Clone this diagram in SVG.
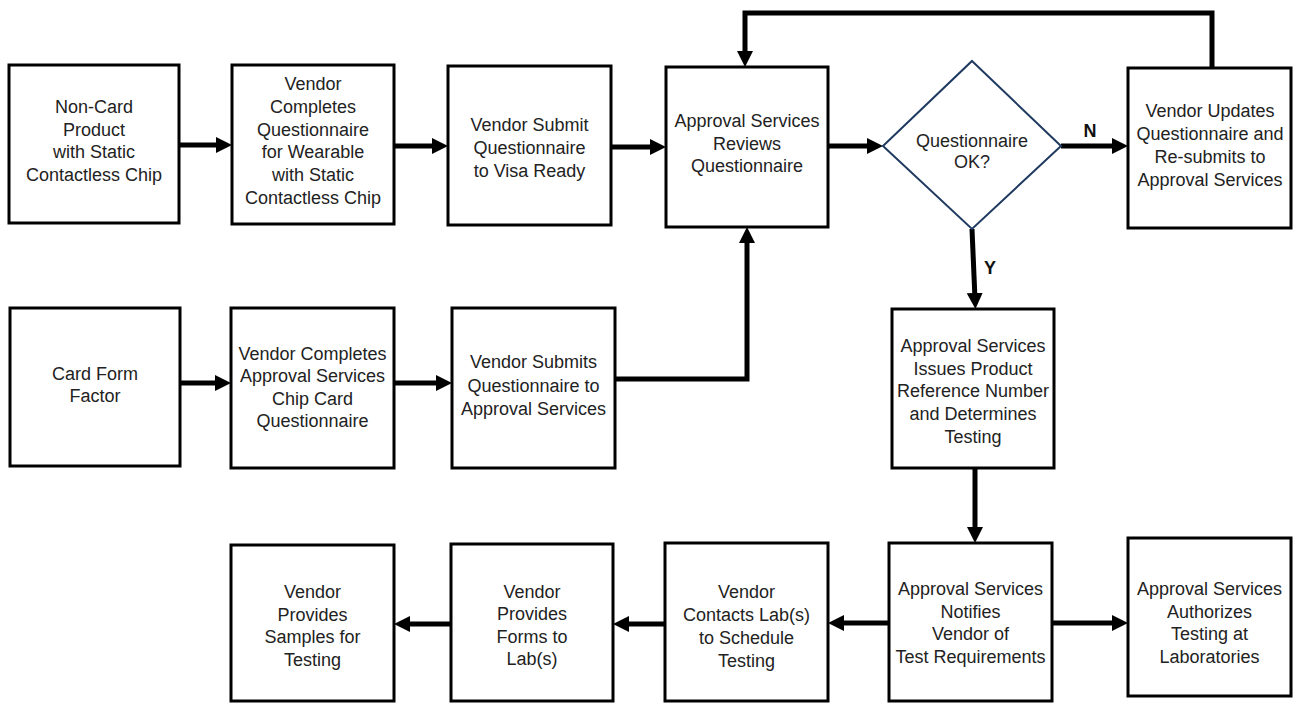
<svg xmlns="http://www.w3.org/2000/svg" width="1296" height="703" viewBox="0 0 1296 703">
<style>
.box{fill:#fff;stroke:#000;stroke-width:3}
.dia{fill:#fff;stroke:#1f3a60;stroke-width:2}
.t{font-family:"Liberation Sans",Arial,sans-serif;font-size:18px;fill:#222;text-anchor:middle}
.lbl{font-family:"Liberation Sans",Arial,sans-serif;font-size:18px;font-weight:bold;fill:#111;text-anchor:middle}
.c{fill:none;stroke:#000;stroke-width:5;marker-end:url(#ah)}
</style>
<defs>
<marker id="ah" markerUnits="userSpaceOnUse" markerWidth="18" markerHeight="18" refX="6" refY="8" orient="auto">
<path d="M0,0 L16,8 L0,16 z" fill="#000"/>
</marker>
</defs>
<rect width="1296" height="703" fill="#fff"/>
<g id="connectors">
<path class="c" d="M179,145 H222"/>
<path class="c" d="M394,146 H438"/>
<path class="c" d="M611,147 H656"/>
<path class="c" d="M828,146 H873"/>
<path class="c" d="M1061,146 H1118"/>
<path class="c" d="M1212,68 V13 H745 V57"/>
<path class="c" d="M972,229 L975,299"/>
<path class="c" d="M975,468 V533"/>
<path class="c" d="M889,623 H838"/>
<path class="c" d="M665,624 H623"/>
<path class="c" d="M451,624 H404"/>
<path class="c" d="M1052,623 H1118"/>
<path class="c" d="M180,383 H221"/>
<path class="c" d="M394,383 H442"/>
<path class="c" d="M615,379 H747 V237"/>
<text class="lbl" x="1090" y="137">N</text>
<text class="lbl" x="990" y="274">Y</text>
</g>
<g id="n1"><rect class="box" x="9" y="65" width="170" height="158"/>
<text class="t"><tspan x="94" y="113">Non-Card</tspan><tspan x="94" y="135.5">Product</tspan><tspan x="94" y="158">with Static</tspan><tspan x="94" y="180.5">Contactless Chip</tspan></text></g>
<g id="n2"><rect class="box" x="232" y="65" width="162" height="159"/>
<text class="t"><tspan x="313" y="90">Vendor</tspan><tspan x="313" y="113">Completes</tspan><tspan x="313" y="136">Questionnaire</tspan><tspan x="313" y="158">for Wearable</tspan><tspan x="313" y="181">with Static</tspan><tspan x="313" y="204">Contactless Chip</tspan></text></g>
<g id="n3"><rect class="box" x="448" y="66" width="163" height="159"/>
<text class="t"><tspan x="529.5" y="131">Vendor Submit</tspan><tspan x="529.5" y="154">Questionnaire</tspan><tspan x="529.5" y="177">to Visa Ready</tspan></text></g>
<g id="n4"><rect class="box" x="666" y="67" width="162" height="160"/>
<text class="t"><tspan x="747" y="127">Approval Services</tspan><tspan x="747" y="150">Reviews</tspan><tspan x="747" y="172">Questionnaire</tspan></text></g>
<g id="n5"><polygon class="dia" points="972,61 1061,146 972,229 883,146"/>
<text class="t"><tspan x="972" y="147">Questionnaire</tspan><tspan x="972" y="168">OK?</tspan></text></g>
<g id="n6"><rect class="box" x="1128" y="68" width="163" height="160"/>
<text class="t"><tspan x="1210" y="117">Vendor Updates</tspan><tspan x="1210" y="140">Questionnaire and</tspan><tspan x="1210" y="163">Re-submits to</tspan><tspan x="1210" y="186">Approval Services</tspan></text></g>
<g id="n7"><rect class="box" x="10" y="308" width="170" height="158"/>
<text class="t"><tspan x="95" y="380">Card Form</tspan><tspan x="95" y="402">Factor</tspan></text></g>
<g id="n8"><rect class="box" x="231" y="308" width="163" height="160"/>
<text class="t"><tspan x="312.5" y="360">Vendor Completes</tspan><tspan x="312.5" y="382">Approval Services</tspan><tspan x="312.5" y="405">Chip Card</tspan><tspan x="312.5" y="427">Questionnaire</tspan></text></g>
<g id="n9"><rect class="box" x="452" y="308" width="163" height="160"/>
<text class="t"><tspan x="533.5" y="368">Vendor Submits</tspan><tspan x="533.5" y="391.5">Questionnaire to</tspan><tspan x="533.5" y="415">Approval Services</tspan></text></g>
<g id="n10"><rect class="box" x="892" y="309" width="162" height="159"/>
<text class="t"><tspan x="973" y="352">Approval Services</tspan><tspan x="973" y="375">Issues Product</tspan><tspan x="973" y="397">Reference Number</tspan><tspan x="973" y="420">and Determines</tspan><tspan x="973" y="443">Testing</tspan></text></g>
<g id="n11"><rect class="box" x="889" y="543" width="163" height="158"/>
<text class="t"><tspan x="970.5" y="595">Approval Services</tspan><tspan x="970.5" y="618">Notifies</tspan><tspan x="970.5" y="640">Vendor of</tspan><tspan x="970.5" y="663">Test Requirements</tspan></text></g>
<g id="n12"><rect class="box" x="1128" y="538" width="163" height="158"/>
<text class="t"><tspan x="1209.5" y="595">Approval Services</tspan><tspan x="1209.5" y="618">Authorizes</tspan><tspan x="1209.5" y="640">Testing at</tspan><tspan x="1209.5" y="663">Laboratories</tspan></text></g>
<g id="n13"><rect class="box" x="665" y="543" width="163" height="158"/>
<text class="t"><tspan x="746.5" y="598">Vendor</tspan><tspan x="746.5" y="621">Contacts Lab(s)</tspan><tspan x="746.5" y="644">to Schedule</tspan><tspan x="746.5" y="667">Testing</tspan></text></g>
<g id="n14"><rect class="box" x="451" y="544" width="162" height="157"/>
<text class="t"><tspan x="532" y="598">Vendor</tspan><tspan x="532" y="620">Provides</tspan><tspan x="532" y="643">Forms to</tspan><tspan x="532" y="665">Lab(s)</tspan></text></g>
<g id="n15"><rect class="box" x="231" y="545" width="163" height="156"/>
<text class="t"><tspan x="312.5" y="598">Vendor</tspan><tspan x="312.5" y="621">Provides</tspan><tspan x="312.5" y="643">Samples for</tspan><tspan x="312.5" y="666">Testing</tspan></text></g>
</svg>
